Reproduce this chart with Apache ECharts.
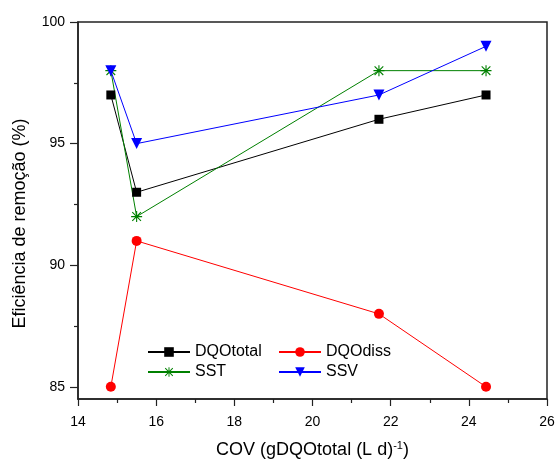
<!DOCTYPE html>
<html>
<head>
<meta charset="utf-8">
<script src="https://cdn.jsdelivr.net/npm/echarts@6/dist/echarts.min.js"></script>
<style>
  html, body { margin: 0; padding: 0; background: #fff; }
  #chart { width: 557px; height: 459px; }
</style>
</head>
<body>
<div id="chart"></div>
<script>
// COV (gDQOtotal (L d)^-1)
const cov = [14.84, 15.5, 21.7, 24.44]
const dqoTotal = [97, 93, 96, 97]
const dqoDiss = [85, 91, 88, 85]
const sst = [98, 92, 98, 98]
const ssv = [98, 95, 97, 99]
const yTicks = [85, 90, 95, 100]
const yMinorTicks = [87.5, 92.5, 97.5]

const pairs = arr => arr.map((v, i) => [cov[i], v])

// asterisk marker (4 thin bars)
const asterisk = 'path://M0,9L20,9L20,11L0,11Z M9,0L11,0L11,20L9,20Z ' +
  'M1.4,2.8L2.8,1.4L18.6,17.2L17.2,18.6Z M17.2,1.4L18.6,2.8L2.8,18.6L1.4,17.2Z'

const font = 'Liberation Sans, Arial, sans-serif'
const chart = echarts.init(document.getElementById('chart'))

const lineSeries = (name, data, color, symbol, size, rotate) => ({
  name,
  type: 'line',
  data: pairs(data),
  symbol,
  symbolSize: size,
  symbolRotate: rotate || 0,
  showAllSymbol: true,
  animation: false,
  lineStyle: { color, width: 1 },
  itemStyle: { color }
})

const legendBase = {
  orient: 'vertical',
  top: 344,
  padding: 0,
  itemWidth: 42,
  itemHeight: 12,
  itemGap: 4,
  textStyle: { fontFamily: font, fontSize: 16, color: '#000' },
  selectedMode: false
}

chart.setOption({
  backgroundColor: '#fff',
  grid: {
    left: 78, right: 10, top: 22, bottom: 60,
    containLabel: false,
    outerBoundsMode: 'none',
    show: true, borderColor: '#222', borderWidth: 1.5
  },
  legend: [
    Object.assign({}, legendBase, { left: 147, data: ['DQOtotal', 'SST'] }),
    Object.assign({}, legendBase, { left: 278, data: ['DQOdiss', 'SSV'] })
  ],
  xAxis: {
    type: 'value',
    min: 14,
    max: 26,
    interval: 2,
    name: 'COV (gDQOtotal (L d){sup|-1})',
    nameLocation: 'middle',
    nameGap: 41,
    nameTextStyle: {
      fontFamily: font, fontSize: 18, color: '#000',
      rich: {
        sup: { fontFamily: font, fontSize: 11, color: '#000', verticalAlign: 'top', padding: [0, 0, 10, 0] }
      }
    },
    splitLine: { show: false },
    axisLine: { lineStyle: { color: '#222', width: 1.5 } },
    axisTick: { inside: false, length: 7, lineStyle: { color: '#222', width: 1.2 } },
    minorTick: { show: true, splitNumber: 2, length: 4, lineStyle: { color: '#222', width: 1.2 } },
    axisLabel: { fontFamily: font, fontSize: 14, color: '#000', margin: 16 }
  },
  yAxis: [{
    type: 'value',
    min: 84.5,
    max: 100,
    name: 'Eficiência de remoção (%)',
    nameLocation: 'middle',
    nameGap: 49,
    nameTextStyle: { fontFamily: font, fontSize: 18, color: '#000', padding: [0, 26, 0, 0] },
    splitLine: { show: false },
    axisLine: { lineStyle: { color: '#222', width: 1.5 } },
    axisTick: { length: 8, customValues: yTicks, lineStyle: { color: '#222', width: 1.2 } },
    axisLabel: { fontFamily: font, fontSize: 14, color: '#000', margin: 13, customValues: yTicks }
  }, {
    // minor ticks only
    type: 'value',
    position: 'left',
    min: 84.5,
    max: 100,
    splitLine: { show: false },
    axisLine: { show: false },
    axisTick: { length: 4, customValues: yMinorTicks, lineStyle: { color: '#222', width: 1.2 } },
    axisLabel: { show: false, customValues: yMinorTicks }
  }],
  series: [
    lineSeries('DQOtotal', dqoTotal, '#000000', 'rect', 9),
    lineSeries('DQOdiss', dqoDiss, '#ff0000', 'circle', 10),
    lineSeries('SST', sst, '#008000', asterisk, 11),
    lineSeries('SSV', ssv, '#0000ff', 'triangle', 11, 180)
  ]
})
</script>
</body>
</html>
